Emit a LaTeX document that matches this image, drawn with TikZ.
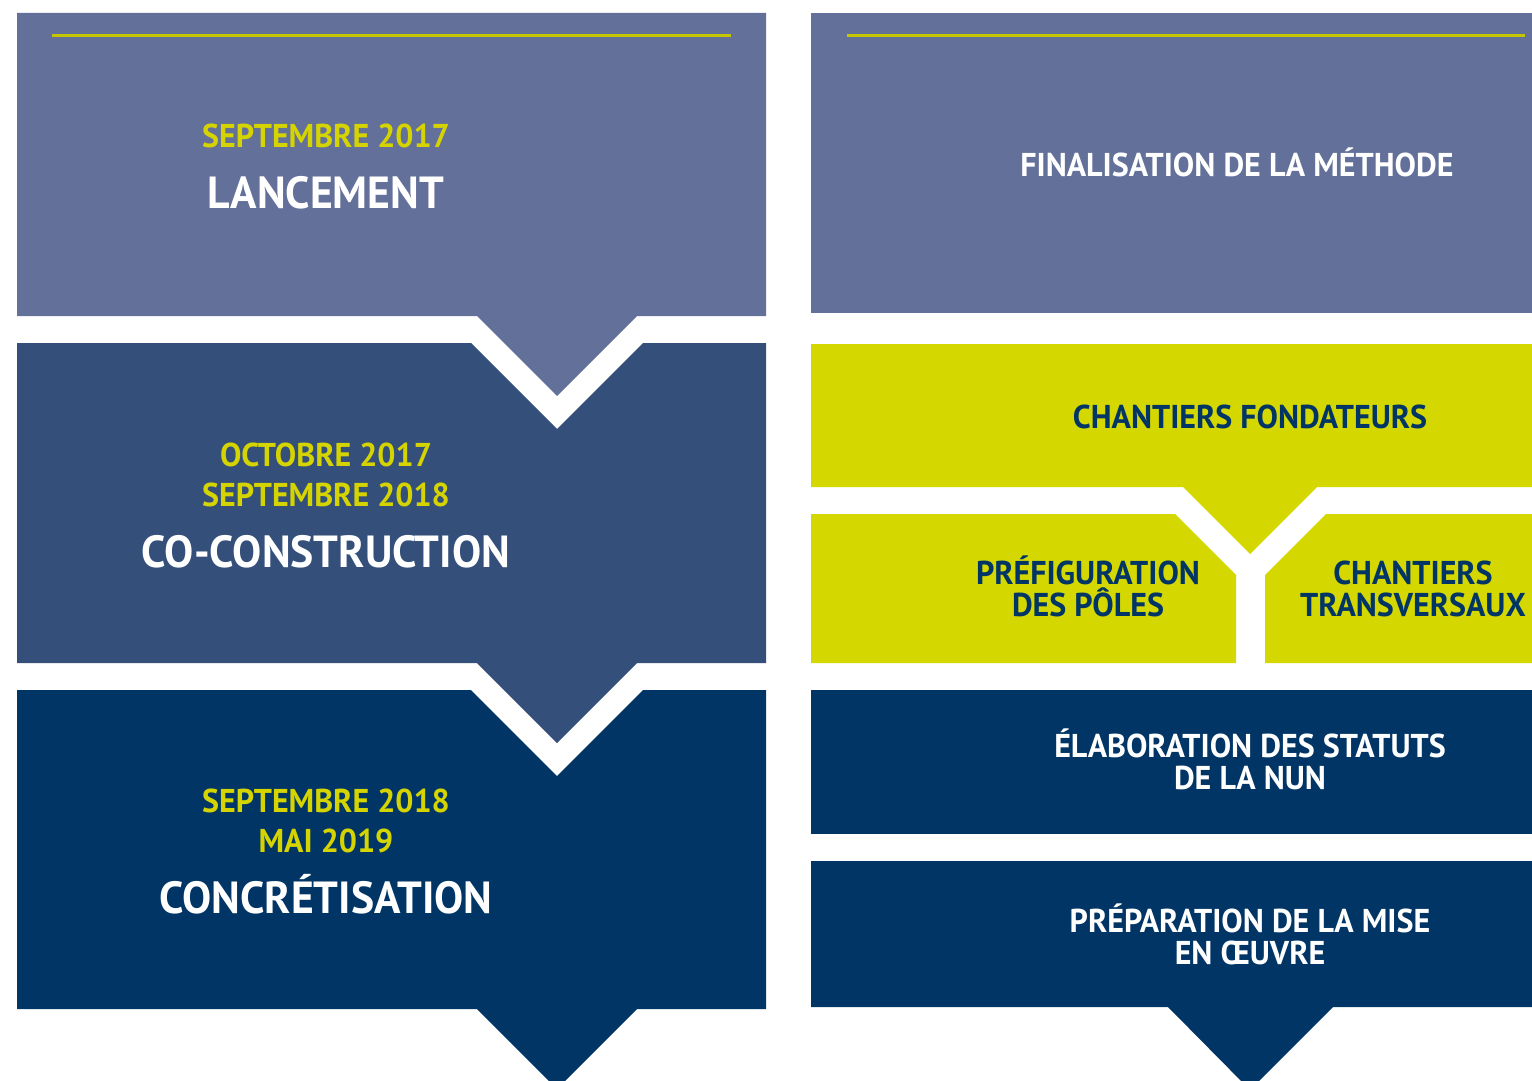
\documentclass[tikz,border=0pt]{standalone}
\usepackage{fontspec}
\setmainfont{PT Sans}[FakeStretch=0.97]
\definecolor{slateA}{HTML}{637099}
\definecolor{slateB}{HTML}{334F7A}
\definecolor{navyC}{HTML}{003566}
\definecolor{limeY}{HTML}{D4D700}
\definecolor{limeT}{HTML}{D6D400}
\begin{document}
\begin{tikzpicture}[x=1pt,y=-1pt,
  datetxt/.style={text=limeT,font=\fontsize{33}{40}\selectfont\bfseries,align=center,inner sep=0pt},
  titletxt/.style={text=white,font=\fontsize{45}{52}\selectfont\bfseries,align=center,inner sep=0pt},
  whitetxt/.style={text=white,font=\fontsize{33}{32}\selectfont\bfseries,align=center,inner sep=0pt},
  darktxt/.style={text=navyC,font=\fontsize{33}{32}\selectfont\bfseries,align=center,inner sep=0pt},
  topline/.style={draw=limeY!92!black,line width=3pt}]
\useasboundingbox (0,0) rectangle (1532,1081);
\clip (0,0) rectangle (1532,1081);
% left column
\fill[slateA] (17,13) -- (766,13) -- (766,316) -- (637,316) -- (557,396) -- (477,316) -- (17,316) -- cycle;
\fill[slateB] (17,343) -- (471,343) -- (557,429) -- (643,343) -- (766,343) -- (766,663) -- (637,663) -- (557,743) -- (477,663) -- (17,663) -- cycle;
\fill[navyC] (17,690) -- (471,690) -- (557,776) -- (643,690) -- (766,690) -- (766,1009) -- (637,1009) -- (557,1089) -- (477,1009) -- (17,1009) -- cycle;
\coordinate (l1a) at (52,36); \coordinate (l1b) at (731,36);
\draw[topline] (l1a) -- (l1b);
% right column
\fill[slateA] (811,13) rectangle (1532,313);
\coordinate (l2a) at (847,36); \coordinate (l2b) at (1525,36);
\draw[topline] (l2a) -- (l2b);
\fill[limeY] (811,344) -- (1532,344) -- (1532,487) -- (1317,487) -- (1250,554) -- (1183,487) -- (811,487) -- cycle;
\fill[limeY] (811,514) -- (1175,514) -- (1236,575) -- (1236,663) -- (811,663) -- cycle;
\fill[limeY] (1265,575) -- (1326,514) -- (1532,514) -- (1532,663) -- (1265,663) -- cycle;
\fill[navyC] (811,690) rectangle (1532,834);
\fill[navyC] (811,861) -- (1532,861) -- (1532,1007) -- (1333,1007) -- (1250,1090) -- (1168,1007) -- (811,1007) -- cycle;
% texts left
\node[datetxt] (d1) at (326,136) {SEPTEMBRE 2017};
\node[titletxt] (t1) at (326,193) {LANCEMENT};
\node[datetxt] (d2a) at (326,455) {OCTOBRE 2017};
\node[datetxt] (d2b) at (326,495) {SEPTEMBRE 2018};
\node[titletxt] (t2) at (326,552) {CO-CONSTRUCTION};
\node[datetxt] (d3a) at (326,801) {SEPTEMBRE 2018};
\node[datetxt] (d3b) at (326,841) {MAI 2019};
\node[titletxt] (t3) at (326,894) {CONCRÉTISATION};
% texts right
\node[whitetxt] (ra) at (1237,162) {FINALISATION DE LA MÉTHODE};
\node[darktxt] (rb) at (1250,417) {CHANTIERS FONDATEURS};
\node[darktxt] (rc) at (1088,586) {PRÉFIGURATION\\DES PÔLES};
\node[darktxt] (rd) at (1413,589) {CHANTIERS\\TRANSVERSAUX};
\node[whitetxt] (re) at (1250,759) {ÉLABORATION DES STATUTS\\DE LA NUN};
\node[whitetxt] (rf) at (1250,934) {PRÉPARATION DE LA MISE\\EN ŒUVRE};
\end{tikzpicture}
\end{document}
